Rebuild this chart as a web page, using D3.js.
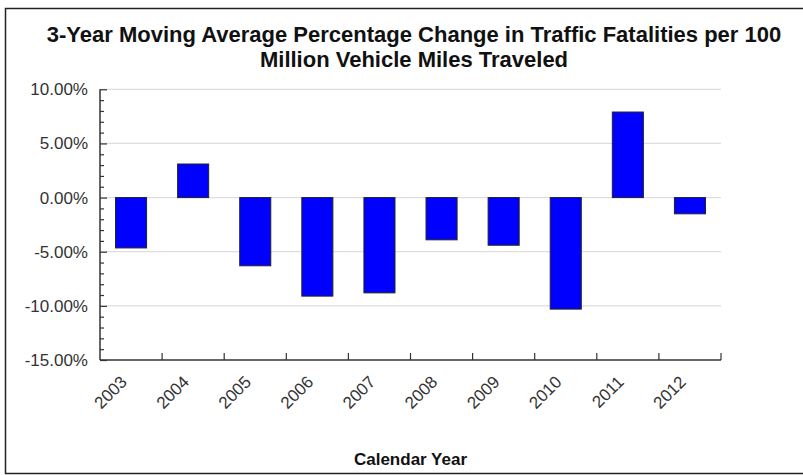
<!DOCTYPE html>
<html>
<head>
<meta charset="utf-8">
<script src="https://cdn.jsdelivr.net/npm/d3@7"></script>
<style>
  body { margin: 0; background: #fff; }
  text { font-family: "Liberation Sans", Arial, sans-serif; }
</style>
</head>
<body>
<div id="chart"></div>
<script>
/* 3-Year moving average % change in traffic fatalities per 100M VMT */

const years = ["2003", "2004", "2005", "2006", "2007", "2008", "2009", "2010", "2011", "2012"];
const pctChange = [-4.65, 3.1, -6.3, -9.1, -8.8, -3.9, -4.4, -10.3, 7.9, -1.5];
const yTicks = [10, 5, 0, -5, -10, -15];
const titleLines = ["3-Year Moving Average Percentage Change in Traffic Fatalities per 100",
                    "Million Vehicle Miles Traveled"];

const data = years.map((y, i) => ({ year: y, value: pctChange[i] }));

const height = 475,
  width = 803,
  margin = ({ top: 89.3, right: 82, bottom: 115, left: 100 });

let svg = d3.select("#chart")
  .append("svg")
  .attr("width", width)
  .attr("height", height)
  .attr("viewBox", [0, 0, width, height]);

/* outer frame (right side runs past the picture) */
svg.append("rect")
  .attr("x", 5.5)
  .attr("y", 8.5)
  .attr("width", 826)
  .attr("height", 465)
  .attr("fill", "none")
  .attr("stroke", "#222")
  .attr("stroke-width", 1.5);

/* title */
svg.append("g")
  .selectAll("text")
  .data(titleLines)
  .join("text")
  .attr("x", 414)
  .attr("y", (d, i) => 41.5 + i * 25)
  .attr("text-anchor", "middle")
  .attr("font-size", 22)
  .attr("font-weight", "bold")
  .attr("fill", "#111")
  .text(d => d);

let x = d3.scaleBand()
  .domain(years)
  .range([margin.left, width - margin.right])
  .paddingInner(0.5)
  .paddingOuter(0.25);

/* plain bands for the category boundary ticks */
let xCat = d3.scaleBand()
  .domain(years)
  .range([margin.left, width - margin.right]);

let y = d3.scaleLinear()
  .domain([-15, 10])
  .range([height - margin.bottom, margin.top]);

/* gridlines */
svg.append("g")
  .selectAll("line")
  .data(yTicks.filter(d => d > -15))
  .join("line")
  .attr("x1", margin.left)
  .attr("x2", width - margin.right)
  .attr("y1", d => y(d))
  .attr("y2", d => y(d))
  .attr("stroke", "#ddd")
  .attr("stroke-width", 1.2);

/* bars */
svg.append("g")
  .selectAll("rect")
  .data(data)
  .join("rect")
  .attr("x", d => x(d.year))
  .attr("width", x.bandwidth())
  .attr("y", d => y(Math.max(0, d.value)))
  .attr("height", d => Math.abs(y(d.value) - y(0)))
  .attr("fill", "#0000ff")
  .attr("stroke", "#222")
  .attr("stroke-width", 1);

/* y axis: ticks point into the plot */
let yAxis = svg.append("g")
  .attr("transform", `translate(${margin.left},0)`);

yAxis.call(d3.axisRight(y).tickValues(d3.range(-15, 11, 1)).tickSize(4).tickFormat(""))
  .call(g => g.select(".domain").remove());
yAxis.selectAll(".tick line")
  .attr("stroke", "#333")
  .attr("stroke-width", 1.2)
  .attr("x2", d => d % 5 === 0 ? 7 : 4);

yAxis.append("line")
  .attr("y1", y(10))
  .attr("y2", y(-15))
  .attr("stroke", "#333")
  .attr("stroke-width", 1.5);

yAxis.selectAll(".ylab")
  .data(yTicks)
  .join("text")
  .attr("class", "ylab")
  .attr("x", -12)
  .attr("y", d => y(d))
  .attr("dy", "0.35em")
  .attr("text-anchor", "end")
  .attr("font-size", 17)
  .attr("fill", "#333")
  .text(d => d.toFixed(2) + "%");

/* x axis */
let xAxis = svg.append("g")
  .attr("transform", `translate(0,${y(-15)})`);

xAxis.append("line")
  .attr("x1", margin.left)
  .attr("x2", width - margin.right)
  .attr("stroke", "#333")
  .attr("stroke-width", 1.5);

xAxis.selectAll(".xtick")
  .data(years)
  .join("line")
  .attr("class", "xtick")
  .attr("x1", d => xCat(d) + xCat.bandwidth())
  .attr("x2", d => xCat(d) + xCat.bandwidth())
  .attr("y1", 0)
  .attr("y2", -7)
  .attr("stroke", "#333")
  .attr("stroke-width", 1.2);

xAxis.selectAll(".xlab")
  .data(years)
  .join("text")
  .attr("class", "xlab")
  .attr("transform", d => `translate(${x(d) + x.bandwidth() / 2 - 3},23) rotate(-45)`)
  .attr("text-anchor", "end")
  .attr("font-size", 17)
  .attr("fill", "#333")
  .text(d => d);

/* axis title */
svg.append("text")
  .attr("x", (margin.left + width - margin.right) / 2)
  .attr("y", 465)
  .attr("text-anchor", "middle")
  .attr("font-size", 17)
  .attr("font-weight", "bold")
  .attr("fill", "#111")
  .text("Calendar Year");
</script>
</body>
</html>
